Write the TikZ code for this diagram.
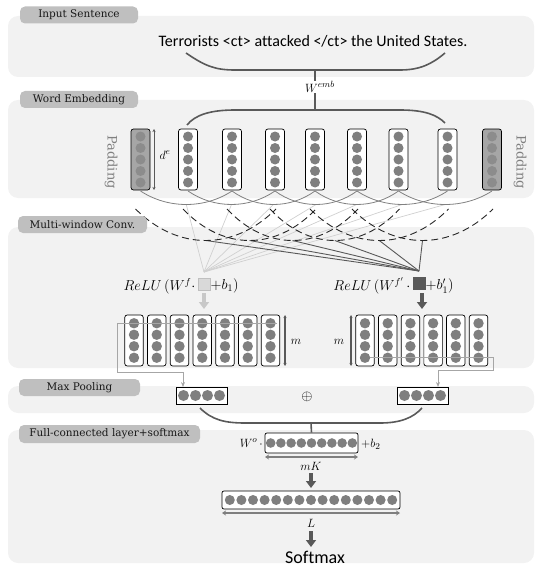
\documentclass[tikz,border=0pt]{standalone}
\usepackage{fontspec}
\newfontfamily\sentfont{Carlito}[Ligatures=NoCommon]
\newfontfamily\tabfont{DejaVu Serif}
\usetikzlibrary{arrows.meta}
\definecolor{panel}{HTML}{F2F2F2}
\definecolor{tabc}{HTML}{BFBFBF}
\definecolor{dotc}{HTML}{7F7F7F}
\definecolor{padfill}{HTML}{A6A6A6}
\definecolor{padcirc}{HTML}{8C8C8C}
\definecolor{bracec}{HTML}{595959}
\definecolor{arcc}{HTML}{808080}
\definecolor{dashc}{HTML}{262626}
\definecolor{lightln}{HTML}{D0D0D0}
\definecolor{darkln}{HTML}{595959}
\definecolor{tracec}{HTML}{A6A6A6}
\definecolor{lightsq}{HTML}{D9D9D9}
\definecolor{lightarr}{HTML}{C8C8C8}
\definecolor{dimc}{HTML}{7F7F7F}
\definecolor{padtext}{HTML}{808080}
\tikzset{
 panelbg/.style={fill=panel, rounded corners=10pt},
 tab/.style={fill=tabc, rounded corners=5pt, inner sep=0pt, font=\tabfont\fontsize{10.5}{12}\selectfont, text=black!90},
 ebox/.style={draw=black, fill=white, rounded corners=2.5pt, minimum width=19pt, minimum height=61pt, inner sep=0pt, line width=0.7pt},
 pbox/.style={ebox, fill=padfill},
 cbox/.style={draw=black, fill=white, rounded corners=2.5pt, minimum width=18.5pt, minimum height=51pt, inner sep=0pt, line width=0.7pt},
 mpbox/.style={draw=black, fill=white, minimum width=51pt, minimum height=17pt, inner sep=0pt, line width=0.7pt},
 fcbox/.style={draw=black, fill=white, rounded corners=2pt, inner sep=0pt, line width=0.7pt},
 dot/.style={fill=dotc},
 bracel/.style={draw=bracec, line width=1.6pt},
 arcs/.style={draw=arcc, line width=0.8pt},
 arcd/.style={draw=dashc, line width=0.9pt, dash pattern=on 7pt off 4pt},
 lightl/.style={draw=lightln, line width=0.7pt},
 darkl/.style={draw=darkln, line width=0.9pt},
 trace/.style={draw=tracec, line width=0.9pt},
 tracearr/.style={trace, -{Stealth[length=5pt,width=4pt]}},
 bigarrow/.style={line width=4pt, -{Triangle[width=10pt,length=7pt]}},
 dimarr/.style={draw=dimc, line width=2pt, {Stealth[length=4pt,width=5pt]}-{Stealth[length=4pt,width=5pt]}},
 marr/.style={draw=bracec, {Stealth[length=3pt,width=3pt]}-{Stealth[length=3pt,width=3pt]}},
 mathlbl/.style={font=\fontsize{13}{15}\selectfont, inner sep=0pt},
 relulbl/.style={font=\fontsize{14}{16}\selectfont, inner sep=0pt},
 padlbl/.style={font=\tabfont\fontsize{13}{15}\selectfont, text=padtext, rotate=-90, inner sep=0pt},
}
\begin{document}
\begin{tikzpicture}[x=1pt,y=-1pt]
\useasboundingbox (0,0) rectangle (536,567);
% panels
\fill[panelbg] (8,16) rectangle (534,77);
\fill[panelbg] (8,100) rectangle (534,198);
\fill[panelbg] (8,227) rectangle (534,368);
\fill[panelbg] (8,386) rectangle (534,413);
\fill[panelbg] (8,430) rectangle (534,563);

% input sentence
\node[font=\sentfont\fontsize{16}{18}\selectfont, inner sep=0pt] (sent) at (313,41) {Terrorists <ct> attacked </ct> the United States.};
\coordinate (b1s) at (315,70);
\coordinate (b2s) at (315,110);
\draw[bracel] (186,53) .. controls (205,66) and (215,70) .. (235,70) -- (400,70) .. controls (420,70) and (432,64) .. (445,53);
\draw[bracel] (b1s) -- (b2s);
\node[mathlbl, fill=white, inner sep=0.6pt] (wemb) at (320,87) {$W^{emb}$};
\draw[bracel] (187,125) .. controls (195,115) and (210,110) .. (235,110) -- (400,110) .. controls (425,110) and (437,115) .. (445,123);

% embedding columns
\def\ex{{140.5,188,232,275,315,357,398.5,447.5,492}}
\foreach \x [count=\i from 1] in {188,232,275,315,357,398.5,447.5} {
  \node[ebox] (e\i) at (\x,159.5) {};
  \foreach \k in {0,...,4} \fill[dot] (\x,136.5+\k*11.5) circle (5pt);
}
\foreach \x/\i in {140.5/0,492/8} {
  \node[pbox] (e\i) at (\x,159.5) {};
  \foreach \k in {0,...,4} \fill[padcirc] (\x,136.5+\k*11.5) circle (5pt);
}
\draw[marr, line width=1pt] (154,129) -- (154,190);
\node[mathlbl] (de) at (165,155) {$d^e$};
\node[padlbl] (padl) at (111,162) {Padding};
\node[padlbl] (padr) at (520,162) {Padding};

% conv connection points
\coordinate (cf1) at (204,272);
\coordinate (cf2) at (419,271);
\foreach \i in {0,...,6} {
  \pgfmathsetmacro\xa{\ex[\i]}
  \pgfmathsetmacro\xb{\ex[\i+2]}
  \pgfmathsetmacro\xm{(\xa+\xb)/2}
  \coordinate (sb\i) at (\xm,204.5);
  \draw[lightl] (sb\i) -- (cf1);
}
\foreach \i in {0,...,5} {
  \pgfmathsetmacro\xa{\ex[\i]-5}
  \pgfmathsetmacro\xb{\ex[\i+3]+1}
  \pgfmathsetmacro\xm{(\xa+\xb)/2}
  \coordinate (db\i) at (\xm,240.5);
  \draw[darkl] (db\i) -- (cf2);
}
\foreach \i in {0,...,6} {
  \pgfmathsetmacro\xa{\ex[\i]}
  \pgfmathsetmacro\xb{\ex[\i+2]}
  \pgfmathsetmacro\ca{\xa+0.3*(\xb-\xa)}
  \pgfmathsetmacro\cb{\xb-0.3*(\xb-\xa)}
  \draw[arcs] (\xa,191) .. controls (\ca,209) and (\cb,209) .. (\xb,191);
}
\foreach \i in {0,...,5} {
  \pgfmathsetmacro\xa{\ex[\i]-5}
  \pgfmathsetmacro\xb{\ex[\i+3]+1}
  \pgfmathsetmacro\ca{\xa+0.3*(\xb-\xa)}
  \pgfmathsetmacro\cb{\xb-0.3*(\xb-\xa)}
  \draw[arcd] (\xa,209) .. controls (\ca,251) and (\cb,251) .. (\xb,209);
}

% ReLU expressions
\node[relulbl, anchor=east] (relu1) at (195.5,286) {$ReLU\,(W^{f}\cdot$};
\node[draw=tabc, fill=lightsq, minimum size=12pt, inner sep=0pt] (sq1) at (204,284) {};
\node[relulbl, anchor=west] (bb1) at (210.5,286) {$+b_1)$};
\node[relulbl, anchor=east] (relu2) at (410.5,286) {$ReLU\,(W^{f'}\,\cdot$};
\node[draw=bracec, fill=darkln, minimum size=12pt, inner sep=0pt] (sq2) at (419,283) {};
\node[relulbl, anchor=west] (bb2) at (425.5,286) {$+b_1')$};
\coordinate (a1s) at (204,293);
\coordinate (a1e) at (204,309);
\coordinate (a2s) at (422,293);
\coordinate (a2e) at (422,309);
\draw[bigarrow, draw=lightarr, fill=lightarr] (a1s) -- (a1e);
\draw[bigarrow, draw=darkln, fill=darkln] (a2s) -- (a2e);

% conv feature maps
\foreach \i in {0,...,6} {
  \pgfmathsetmacro\x{134+22.75*\i}
  \node[cbox] (cl\i) at (\x,340.5) {};
  \foreach \k in {0,...,3} \fill[dot] (\x,323.25+\k*11.5) circle (5.2pt);
}
\foreach \i in {0,...,5} {
  \pgfmathsetmacro\x{365+22.7*\i}
  \node[cbox] (cr\i) at (\x,340.5) {};
  \foreach \k in {0,...,3} \fill[dot] (\x,323.25+\k*11.5) circle (5.2pt);
}
\draw[marr, line width=1.3pt] (285,315) -- (285,366);
\node[mathlbl] (m1) at (296,342) {$m$};
\draw[marr, line width=2.5pt] (351,315) -- (351,366);
\node[mathlbl] (m2) at (339,342) {$m$};

% max pooling
\node[mpbox] (mp1) at (201.5,395.5) {};
\foreach \k in {0,...,3} \fill[dot] (183.5+\k*12,395.5) circle (5.5pt);
\node[mpbox] (mp2) at (422.5,395.5) {};
\foreach \k in {0,...,3} \fill[dot] (404.5+\k*12,395.5) circle (5.5pt);
\draw[trace] (277,323) -- (117,323) -- (117,372) -- (183,372);
\draw[tracearr] (183,372) -- (183,387);
\draw[trace] (370,357) -- (493,357) -- (493,370) -- (438,370);
\draw[tracearr] (438,370) -- (438,387);
\node[font=\fontsize{15}{17}\selectfont, inner sep=0pt] (oplus) at (307,397) {$\oplus$};

% full connected
\node[fcbox, minimum width=93pt, minimum height=20pt] (fc) at (311.5,443) {};
\foreach \k in {0,...,8} \fill[dot] (270.7+\k*10.2,443) circle (4.8pt);
\draw[bracel] (200,408) .. controls (212,420) and (225,423) .. (245,423) -- (380,423) .. controls (400,423) and (413,418) .. (422,408);
\coordinate (b3s) at (311,423);
\draw[bracel] (b3s) -- (fc.north);
\node[mathlbl, anchor=east] (wo) at (263,443) {$W^o\,\cdot$};
\node[mathlbl, anchor=west] (b2) at (361,444) {$+b_2$};
\draw[dimarr] (265,457) -- (358,457);
\node[mathlbl] (mk) at (311,466) {$mK$};
\coordinate (a3s) at (311,473);
\coordinate (a3e) at (311,488);
\draw[bigarrow, draw=darkln, fill=darkln] (a3s) -- (a3e);
\node[fcbox, minimum width=178pt, minimum height=18pt] (lb) at (311,500) {};
\foreach \k in {0,...,14} \fill[dot] (229.8+\k*11.6,500) circle (5pt);
\draw[dimarr] (222,513) -- (400,513);
\node[mathlbl] (ll) at (311,523) {$L$};
\coordinate (a4s) at (311,531);
\coordinate (a4e) at (311,547);
\draw[bigarrow, draw=darkln, fill=darkln] (a4s) -- (a4e);
\node[font=\sentfont\fontsize{18}{20}\selectfont, inner sep=0pt] (smax) at (315,557) {Softmax};

% tabs
\node[tab, minimum width=118pt, minimum height=17pt] (t1) at (79,15) {Input Sentence};
\node[tab, minimum width=118pt, minimum height=17pt] (t2) at (79,99.5) {Word Embedding};
\node[tab, minimum width=129pt, minimum height=17pt] (t3) at (82.5,224.5) {Multi-window Conv.};
\node[tab, minimum width=121pt, minimum height=17pt] (t4) at (79.5,387.5) {Max Pooling};
\node[tab, minimum width=181pt, minimum height=18pt] (t5) at (109.5,434) {Full-connected layer+softmax};
\end{tikzpicture}
\end{document}
